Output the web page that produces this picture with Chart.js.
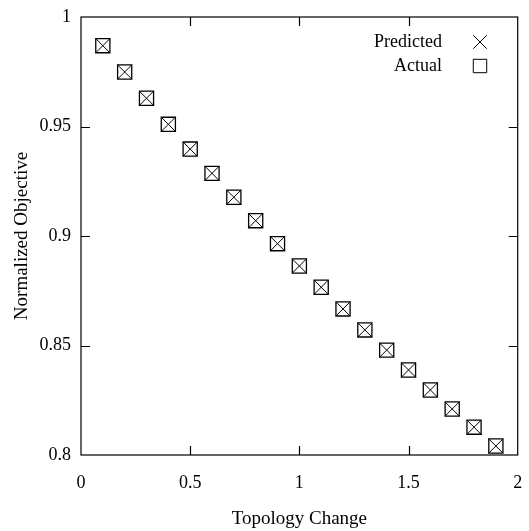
<!DOCTYPE html>
<html>
<head>
<meta charset="utf-8">
<script src="https://cdn.jsdelivr.net/npm/chart.js@4/dist/chart.umd.min.js"></script>
<style>
  html, body { margin: 0; padding: 0; background: #fff; overflow: hidden; }
  #wrap { width: 529px; height: 531px; position: relative; }
  canvas { display: block; }
</style>
</head>
<body>
<div id="wrap"><canvas id="objChart"></canvas></div>
<script>
// topology change values and normalized objective
const topologyChange = [0.1, 0.2, 0.3, 0.4, 0.5, 0.6, 0.7, 0.8, 0.9, 1.0, 1.1, 1.2, 1.3, 1.4, 1.5, 1.6, 1.7, 1.8, 1.9];
const predicted = [0.9869, 0.9749, 0.9629, 0.9510, 0.9397, 0.9286, 0.9177, 0.9070, 0.8965, 0.8863, 0.8766, 0.8667, 0.8571, 0.8479, 0.8388, 0.8297, 0.8210, 0.8127, 0.8041];
const actual = [0.9869, 0.9749, 0.9629, 0.9510, 0.9397, 0.9286, 0.9177, 0.9070, 0.8965, 0.8863, 0.8766, 0.8667, 0.8571, 0.8479, 0.8388, 0.8297, 0.8210, 0.8127, 0.8041];
const xTicks = [0, 0.5, 1, 1.5, 2];
const yTicks = [0.8, 0.85, 0.9, 0.95, 1];

const FONT = '"Liberation Serif", "Times New Roman", serif';

const toPoints = (ys) => topologyChange.map((x, i) => ({ x: x, y: ys[i] }));
const fmt = (v) => String(+Number(v).toFixed(2));

// frame, inward ticks on all four sides, and the legend at top right
const framePlugin = {
    id: 'frame',
    afterDraw(chart) {
        const { ctx, chartArea: a, scales } = chart;
        const t = 9;
        ctx.save();
        ctx.strokeStyle = '#000';
        ctx.lineWidth = 1.2;
        ctx.strokeRect(a.left, a.top, a.right - a.left, a.bottom - a.top);
        ctx.beginPath();
        xTicks.slice(1, -1).forEach(v => {
            const px = Math.round(scales.x.getPixelForValue(v)) + 0.5;
            ctx.moveTo(px, a.bottom); ctx.lineTo(px, a.bottom - t);
            ctx.moveTo(px, a.top); ctx.lineTo(px, a.top + t);
        });
        yTicks.slice(1, -1).forEach(v => {
            const py = Math.round(scales.y.getPixelForValue(v)) + 0.5;
            ctx.moveTo(a.left, py); ctx.lineTo(a.left + t, py);
            ctx.moveTo(a.right, py); ctx.lineTo(a.right - t, py);
        });
        ctx.stroke();

        // legend
        ctx.font = '18px ' + FONT;
        ctx.textAlign = 'right';
        ctx.textBaseline = 'middle';
        chart.data.datasets.forEach((ds, i) => {
            const y = 42 + i * 24;
            ctx.fillStyle = '#000';
            ctx.fillText(ds.label, 442, y);
            ctx.fillStyle = 'rgba(0,0,0,0)';
            ctx.strokeStyle = '#000';
            ctx.lineWidth = 1;
            Chart.helpers.drawPoint(ctx, { pointStyle: ds.pointStyle, radius: 9.5, borderWidth: 1 }, 480, y);
        });
        ctx.restore();
    }
};

new Chart(document.getElementById('objChart'), {
    type: 'scatter',
    data: {
        datasets: [
            {
                label: 'Predicted',
                data: toPoints(predicted),
                pointStyle: 'crossRot',
                pointRadius: 10,
                borderColor: '#000',
                backgroundColor: 'transparent',
                borderWidth: 1
            },
            {
                label: 'Actual',
                data: toPoints(actual),
                pointStyle: 'rect',
                pointRadius: 10,
                borderColor: '#000',
                backgroundColor: 'transparent',
                borderWidth: 1.3
            }
        ]
    },
    options: {
        responsive: true,
        maintainAspectRatio: false,
        animation: false,
        devicePixelRatio: 1,
        layout: { padding: { left: 0, top: 17, right: 10, bottom: 0 } },
        plugins: { legend: { display: false }, tooltip: { enabled: false } },
        scales: {
            x: {
                type: 'linear',
                min: 0, max: 2,
                afterBuildTicks: (s) => { s.ticks = xTicks.map(v => ({ value: v })); },
                afterFit: (s) => { s.height = 76; },
                grid: { display: false, drawTicks: true, tickLength: 17 },
                border: { display: false },
                ticks: { callback: fmt, color: '#000', font: { family: FONT, size: 18 }, padding: 0, maxRotation: 0 },
                title: { display: true, text: 'Topology Change', color: '#000', font: { family: FONT, size: 19 }, padding: { top: 17, bottom: 1 } }
            },
            y: {
                type: 'linear',
                min: 0.8, max: 1,
                afterBuildTicks: (s) => { s.ticks = yTicks.map(v => ({ value: v })); },
                afterFit: (s) => { s.width = 81; },
                grid: { display: false, drawTicks: true, tickLength: 10 },
                border: { display: false },
                ticks: { callback: fmt, color: '#000', font: { family: FONT, size: 18 }, padding: 0 },
                title: { display: true, text: 'Normalized Objective', color: '#000', font: { family: FONT, size: 19 }, padding: { bottom: 0, top: 11 } }
            }
        }
    },
    plugins: [framePlugin]
});
</script>
</body>
</html>
